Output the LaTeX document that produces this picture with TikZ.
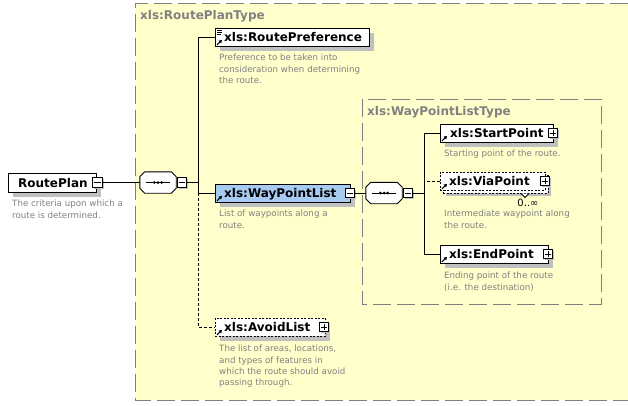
\documentclass[tikz,border=0pt]{standalone}
\usepackage{fontspec}
\setmainfont{DejaVu Sans}
\usetikzlibrary{shadows,arrows.meta}
\definecolor{bgyellow}{RGB}{255,255,204}
\definecolor{frameg}{RGB}{128,128,128}
\definecolor{shg}{RGB}{192,192,192}
\definecolor{descg}{RGB}{128,128,128}
\definecolor{selblue}{RGB}{166,202,240}
\tikzset{
  frame/.style={draw=frameg, line width=1pt, dash pattern=on 18pt off 6pt},
  elembase/.style={draw=black, line width=0.9pt, fill=white, inner sep=0pt, anchor=north west},
  elem/.style={elembase, general shadow={fill=shg, shadow xshift=5pt, shadow yshift=-5pt}},
  optdash/.style={dash pattern=on 2pt off 1.5pt},
  multi/.style={elembase, general shadow={fill=shg, shadow xshift=6pt, shadow yshift=-6pt},
    general shadow={fill=white, draw=black, line width=0.8pt, dash pattern=on 2pt off 1.5pt, shadow xshift=3pt, shadow yshift=-3pt}},
  sgn/.style={draw=black, line width=0.8pt, fill=white, minimum size=9.5pt, inner sep=0pt,
    general shadow={fill=shg, shadow xshift=1.5pt, shadow yshift=-1.5pt}},
  comp/.style={draw=none, minimum width=36pt, minimum height=21pt, inner sep=0pt},
  ttl/.style={anchor=base west, inner sep=0pt, font=\bfseries\fontsize{12}{14}\selectfont},
  lbl/.style={ttl, text=frameg},
  desc/.style={anchor=north west, inner sep=0pt, align=left, text=descg, font=\fontsize{8.7}{11.3}\selectfont},
  conn/.style={draw=black, line width=1pt},
  optconn/.style={conn, dash pattern=on 3pt off 2pt},
}
\newcommand{\mkminus}[1]{\draw[line width=0.8pt] ([xshift=2pt]#1.west) -- ([xshift=-2pt]#1.east);}
\newcommand{\mkplus}[1]{\mkminus{#1}\draw[line width=0.8pt] ([yshift=2pt]#1.south) -- ([yshift=-2pt]#1.north);}
\newcommand{\mkref}[1]{\draw[line width=1pt,-{Triangle[length=3pt,width=3.5pt]}] ([shift={(2pt,2pt)}]#1.south west) -- ([shift={(7pt,7pt)}]#1.south west);}
\newcommand{\octpath}[1]{([xshift=5pt]#1.north west) -- ([xshift=-5pt]#1.north east) -- ([yshift=-5pt]#1.north east)
  -- ([yshift=5pt]#1.south east) -- ([xshift=-5pt]#1.south east) -- ([xshift=5pt]#1.south west)
  -- ([yshift=5pt]#1.south west) -- ([yshift=-5pt]#1.north west) -- cycle}
\newcommand{\mkcomp}[1]{
  \fill[shg, shift={(4pt,-4pt)}] \octpath{#1};
  \draw[line width=0.9pt, fill=white] \octpath{#1};
  \draw[line width=0.9pt] ([xshift=6pt]#1.west) -- ([xshift=-6pt]#1.east);
  \fill ([xshift=-3.6pt]#1.center) circle (1.5pt) (#1.center) circle (1.5pt) ([xshift=3.6pt]#1.center) circle (1.5pt);}
\begin{document}
\begin{tikzpicture}[x=1pt,y=-1pt]
\useasboundingbox (0,0) rectangle (628,405);
% outer group
\fill[bgyellow] (135,3) rectangle (628,400);
\draw[frame] (628,3) -| (135,400) -- (628,400);
\node[lbl] (outerlbl) at (140,19.4) {xls:RoutePlanType};
% inner group
\draw[frame, fill=bgyellow] (362,99) rectangle (601,304);
\node[lbl] (innerlbl) at (367,115.2) {xls:WayPointListType};

\coordinate (bus1) at (198,0);
\coordinate (bus2) at (424,0);

% RoutePlan
\node[elem, minimum width=88pt, minimum height=19pt] (rplan) at (8,173) {};
\node[ttl] (rplant) at (18,187) {RoutePlan};
\node[sgn] (rplanm) at (97.5,182.5) {}; \mkminus{rplanm}
\node[desc] (rpland) at (12,200) {The criteria upon which a\\route is determined.};

% compositor 1
\node[comp] (c1) at (158,182.5) {}; \mkcomp{c1}
\node[sgn] (c1m) at (182,182.5) {}; \mkminus{c1m}

% RoutePreference
\node[elem, minimum width=154pt, minimum height=18pt] (rpref) at (215,28) {};
\node[ttl] (rpreft) at (224,41.4) {xls:RoutePreference};
\mkref{rpref}
\draw[line width=0.7pt] (217,30.5) -- (222,30.5) (217,32.5) -- (222,32.5) (217,34.5) -- (221,34.5);
\node[desc] (rprefd) at (219,54) {Preference to be taken into\\consideration when determining\\the route.};

% WayPointList
\node[elem, fill=selblue, minimum width=135pt, minimum height=18pt] (wpl) at (215,184) {};
\node[ttl] (wplt) at (224,197.4) {xls:WayPointList};
\mkref{wpl}
\node[sgn] (wplm) at (350,193) {}; \mkminus{wplm}
\node[desc] (wpld) at (219,210) {List of waypoints along a\\route.};

% AvoidList
\node[elem, optdash, minimum width=110pt, minimum height=18pt] (al) at (215,318) {};
\node[ttl] (alt) at (224,331.4) {xls:AvoidList};
\mkref{al}
\node[sgn] (alp) at (324,327) {}; \mkplus{alp}
\node[desc] (ald) at (219,345) {The list of areas, locations,\\and types of features in\\which the route should avoid\\passing through.};

% compositor 2
\node[comp] (c2) at (384,193) {}; \mkcomp{c2}
\node[sgn] (c2m) at (408,193) {}; \mkminus{c2m}

% StartPoint
\node[elem, minimum width=113pt, minimum height=18pt] (sp) at (440,124) {};
\node[ttl] (spt) at (450,137.4) {xls:StartPoint};
\mkref{sp}
\node[sgn] (spp) at (553,133) {}; \mkplus{spp}
\node[desc] (spd) at (444,150) {Starting point of the route.};

% ViaPoint
\node[multi, optdash, minimum width=105pt, minimum height=18pt] (vp) at (440,172) {};
\node[ttl] (vpt) at (449,185.4) {xls:ViaPoint};
\mkref{vp}
\node[sgn] (vpp) at (545,181) {}; \mkplus{vpp}
\draw[line width=0.8pt, fill=white] (521,193.5) -- (525,197.5) -- (529,193.5);
\node[inner sep=0pt, font=\fontsize{10}{12}\selectfont] (vpocc) at (528,203) {0..∞};
\node[desc] (vpd) at (444,210) {Intermediate waypoint along\\the route.};

% EndPoint
\node[elem, minimum width=108pt, minimum height=18pt] (ep) at (440,245) {};
\node[ttl] (ept) at (449,258.4) {xls:EndPoint};
\mkref{ep}
\node[sgn] (epp) at (548,254) {}; \mkplus{epp}
\node[desc] (epd) at (444,272) {Ending point of the route\\(i.e. the destination)};

% connectors
\draw[conn] (rplanm) -- (c1);
\draw[conn] (c1m.east) -- (c1m.east -| bus1);
\draw[conn] (rpref.west) -- (rpref.west -| bus1) |- (wpl.west);
\draw[optconn] (wpl.west -| bus1) |- (al.west);
\draw[conn] (wplm) -- (c2);
\draw[conn] (c2m.east) -- (c2m.east -| bus2);
\draw[conn] (sp.west) -- (sp.west -| bus2) |- (ep.west);
\draw[optconn] (vp.west) -- (vp.west -| bus2);
\end{tikzpicture}
\end{document}
